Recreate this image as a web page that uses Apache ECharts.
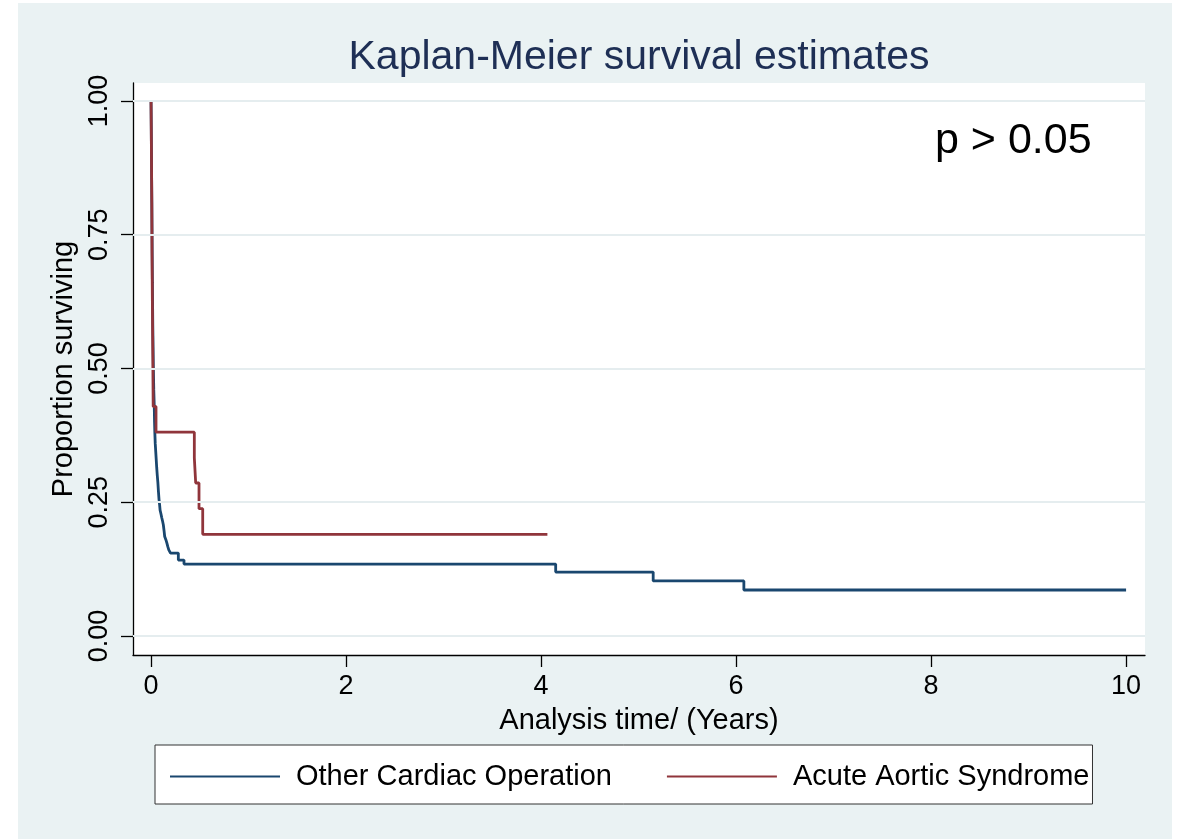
<!DOCTYPE html>
<html><head><meta charset="utf-8">
<script src="https://cdn.jsdelivr.net/npm/echarts@6/dist/echarts.min.js"></script>
<style>html,body{margin:0;padding:0;background:#fff}#c{width:1178px;height:839px}</style>
</head><body><div id="c"></div>
<script>
const titleText = 'Kaplan-Meier survival estimates';
const noteText = 'p > 0.05';
const seriesNames = ['Other Cardiac Operation', 'Acute Aortic Syndrome'];
const otherTimes = [0, 0.002, 0.004, 0.006, 0.008, 0.010, 0.012, 0.014, 0.016, 0.018, 0.021, 0.024, 0.028, 0.033, 0.036, 0.039, 0.043, 0.048, 0.053, 0.058, 0.064, 0.070, 0.076, 0.082, 0.088, 0.093, 0.102, 0.110, 0.118, 0.126, 0.134, 0.140, 0.152, 0.162, 0.172, 0.182, 0.200, 0.280, 0.338, 4.15, 5.15, 6.08, 10.0];
const otherSurv  = [1.0, 0.96, 0.91, 0.86, 0.81, 0.76, 0.71, 0.66, 0.62, 0.58, 0.54, 0.50, 0.46, 0.43, 0.40, 0.38, 0.36, 0.345, 0.33, 0.315, 0.30, 0.287, 0.27, 0.255, 0.245, 0.235, 0.228, 0.221, 0.215, 0.208, 0.196, 0.186, 0.18, 0.174, 0.167, 0.161, 0.155, 0.142, 0.1345, 0.1195, 0.103, 0.086, 0.086];
const aasTimes = [0, 0.002, 0.004, 0.006, 0.008, 0.009, 0.010, 0.012, 0.014, 0.016, 0.018, 0.020, 0.022, 0.051, 0.444, 0.458, 0.492, 0.530, 4.065];
const aasSurv  = [1.0, 0.952, 0.905, 0.857, 0.810, 0.762, 0.714, 0.667, 0.619, 0.571, 0.524, 0.476, 0.429, 0.381, 0.333, 0.286, 0.238, 0.190, 0.190];
const xTicks = [0, 2, 4, 6, 8, 10];
const yTicks = [0, 0.25, 0.5, 0.75, 1];
const xTitle = 'Analysis time/ (Years)';
const yTitle = 'Proportion surviving';

const FONT = '"Liberation Sans", Arial, Helvetica, sans-serif';
const zip = (t, s) => t.map((v, i) => [v, s[i]]);

const chart = echarts.init(document.getElementById('c'), null, {renderer: 'canvas'});
chart.setOption({
  animation: false,
  backgroundColor: '#EAF2F3',
  textStyle: {fontFamily: FONT},
  graphic: [
    {type: 'rect', shape: {x: 0, y: 0, width: 18, height: 839}, style: {fill: '#fff'}, silent: true},
    {type: 'rect', shape: {x: 0, y: 0, width: 1178, height: 3}, style: {fill: '#fff'}, silent: true},
    {type: 'rect', shape: {x: 1172, y: 0, width: 6, height: 839}, style: {fill: '#fff'}, silent: true}
  ],
  title: [
    {text: titleText, left: 634, top: 32, textAlign: 'center',
     textStyle: {fontSize: 41, fontWeight: 'normal', color: '#1E2F55', fontFamily: FONT}},
    {text: noteText, left: 930, top: 115,
     textStyle: {fontSize: 43, fontWeight: 'normal', color: '#000', fontFamily: FONT}}
  ],
  legend: {
    data: seriesNames,
    left: 155, top: 745,
    orient: 'horizontal',
    padding: [17, 3, 13, 15],
    backgroundColor: '#fff',
    borderColor: '#333', borderWidth: 1,
    icon: 'rect', itemWidth: 110, itemHeight: 2, itemGap: 55,
    textStyle: {fontSize: 29, color: '#000', fontFamily: FONT, lineHeight: 29, padding: [0, 0, 0, 11]}
  },
  grid: {left: 133, top: 83, width: 1012, height: 572, show: true, backgroundColor: '#fff', borderWidth: 0},
  xAxis: {
    type: 'value', min: -0.185, max: 10.194,
    axisLine: {show: true, onZero: false, lineStyle: {color: '#000', width: 1.3}},
    axisTick: {show: true, length: 12, customValues: xTicks, lineStyle: {color: '#000', width: 1.3}},
    axisLabel: {customValues: xTicks, fontSize: 27, color: '#000', margin: 18, fontFamily: FONT},
    splitLine: {show: false},
    name: xTitle, nameLocation: 'middle', nameGap: 51,
    nameTextStyle: {fontSize: 29, color: '#000', fontFamily: FONT}
  },
  yAxis: {
    type: 'value', min: -0.0355, max: 1.0336,
    axisLine: {show: true, onZero: false, lineStyle: {color: '#000', width: 1.3}},
    axisTick: {show: true, length: 12, customValues: yTicks, lineStyle: {color: '#000', width: 1.3}},
    axisLabel: {customValues: yTicks, rotate: 90, fontSize: 27, color: '#000', margin: 20, fontFamily: FONT,
                formatter: v => v.toFixed(2)},
    splitLine: {show: false},
    name: yTitle, nameLocation: 'middle', nameGap: 54,
    nameTextStyle: {fontSize: 29, color: '#000', fontFamily: FONT}
  },
  series: [
    {type: 'line', name: 'grid', data: [], z: 1, silent: true,
     markLine: {silent: true, symbol: ['none', 'none'], label: {show: false}, animation: false,
       lineStyle: {type: 'solid', color: '#E5EDEF', width: 2},
       data: yTicks.map(v => ({yAxis: v}))}},
    {type: 'line', name: seriesNames[0], data: zip(otherTimes, otherSurv), step: 'end', symbol: 'none', z: 3,
     lineStyle: {color: '#1A476F', width: 2.8}, itemStyle: {color: '#1A476F'}},
    {type: 'line', name: seriesNames[1], data: zip(aasTimes, aasSurv), step: 'end', symbol: 'none', z: 4,
     lineStyle: {color: '#90353B', width: 2.8}, itemStyle: {color: '#90353B'}}
  ]
});
</script></body></html>
